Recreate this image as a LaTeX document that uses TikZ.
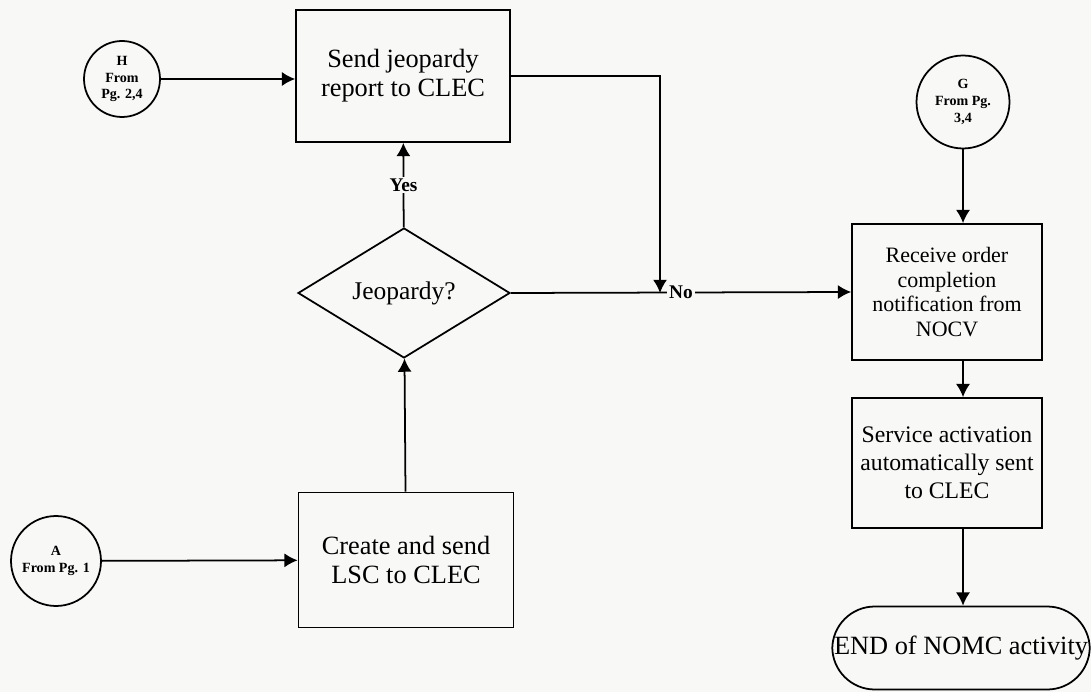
\documentclass[tikz,border=0pt]{standalone}
\usepackage{fontspec}
\setmainfont{Liberation Serif}
\usepackage{tikz}
\usetikzlibrary{shapes.geometric,arrows.meta}

\definecolor{paper}{RGB}{248,248,247}
\tikzset{
	procbox/.style={draw, line width=1pt, rectangle, align=center, font=\fontsize{15}{16.5}\selectfont},
	decision/.style={draw, line width=1pt, diamond, inner sep=0pt, minimum width=4.24cm, minimum height=2.6cm, font=\fontsize{14.5}{16}\selectfont},
	offpage/.style={draw, line width=1pt, circle, align=center, inner sep=0pt, font=\fontsize{8}{9.5}\selectfont\bfseries},
	terminal/.style={draw, line width=1pt, rectangle, rounded corners=0.85cm, minimum width=5.06cm, minimum height=1.66cm, inner sep=1pt, font=\fontsize{15}{17}\selectfont},
	flow/.style={line width=1pt, -{Latex[length=7.5pt,width=8pt]}},
	answer/.style={fill=paper, inner sep=1pt, font=\fontsize{11}{13}\selectfont\bfseries}
}

\begin{document}
\begin{tikzpicture}[x=0.02cm,y=-0.02cm]
		\fill[paper] (0,0) rectangle (1091,692);
		\useasboundingbox (0,0) rectangle (1091,692);

		% Left column
		\node[offpage, minimum size=1.52cm] (H) at (122,79) {H\\From\\Pg. 2,4};
		\node[procbox, minimum width=4.28cm, minimum height=2.64cm] (report) at (403,76) {Send jeopardy\\report to CLEC};
		\node[decision] (jeop) at (404,293) {Jeopardy?};
		\node[procbox, minimum width=4.3cm, minimum height=2.7cm] (lsc) at (406,560) {Create and send\\LSC to CLEC};
		\node[offpage, minimum size=1.8cm] (A) at (56,561) {A\\From Pg. 1};

		% Right column
		\node[offpage, minimum size=1.86cm] (G) at (963,102) {G\\From Pg.\\3,4};
		\node[procbox, minimum width=3.8cm, minimum height=2.72cm, font=\fontsize{12.5}{14}\selectfont] (receive) at (947,292) {Receive order\\completion\\notification from\\NOCV};
		\node[procbox, minimum width=3.8cm, minimum height=2.6cm, font=\fontsize{13.5}{16}\selectfont] (service) at (947,463) {Service activation\\automatically sent\\to CLEC};
		\node[terminal] (done) at (961,648) {END of NOMC activity};

		% Junction of the No line
		\coordinate (join) at (660,293);

		% Connectors
		\draw[flow] (H) -- (H -| report.west);
		\draw[flow] (A) -- (lsc);
		\draw[flow] (lsc) -- (jeop);
		\draw[flow] (jeop) -- node[answer] {Yes} (report);
		\draw[flow] (report.east) -| (join);
		\draw[flow] (jeop.east) -- node[answer] {No} (receive.west);
		\draw[flow] (G) -- (G |- receive.north);
		\draw[flow] (receive.south -| G) -- (G |- service.north);
		\draw[flow] (service.south -| G) -- (G |- done.north);
	\end{tikzpicture}
\end{document}
